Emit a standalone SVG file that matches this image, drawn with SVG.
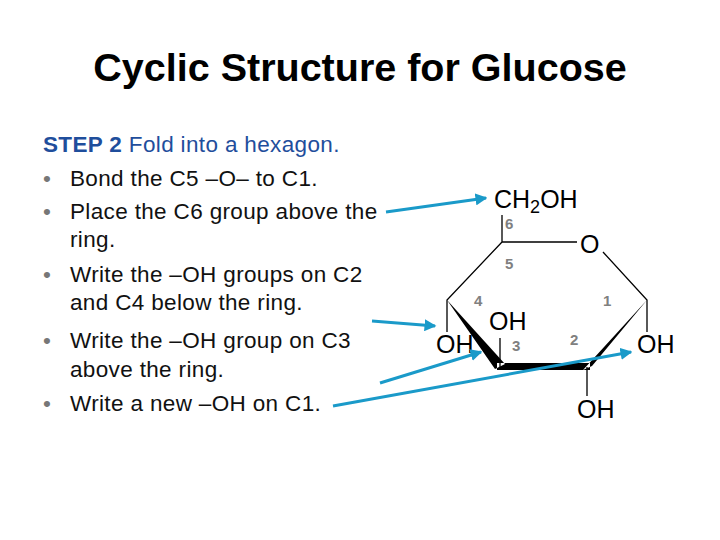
<svg xmlns="http://www.w3.org/2000/svg" width="720" height="540" viewBox="0 0 720 540">
<style>
text{font-family:"Liberation Sans",Arial,sans-serif}
.t{font-size:22.5px;letter-spacing:0.35px;fill:#111}
.b{font-size:22.5px;letter-spacing:0.35px;fill:#1f4e9c}
.g{fill:#777}
.a{font-size:25px;fill:#000}
.n{font-size:15px;fill:#808080;font-weight:bold}
.bond{stroke:#000;stroke-width:1.3;fill:none}
.arr{stroke:#1a9ac9;stroke-width:3;fill:none;marker-end:url(#m)}
</style>
<defs><marker id="m" markerWidth="4" markerHeight="4" refX="3.5" refY="2" orient="auto" markerUnits="strokeWidth"><path d="M0,0 L4,2 L0,4 z" fill="#1a9ac9"/></marker></defs>
<rect width="720" height="540" fill="#fff"/>
<text x="360" y="81" text-anchor="middle" font-size="39.5" font-weight="bold">Cyclic Structure for Glucose</text>
<g id="text">
<text x="43" y="152" class="b"><tspan font-weight="bold">STEP 2</tspan> Fold into a hexagon.</text>
<text x="43" y="186" class="t g">•</text><text x="70" y="186" class="t">Bond the C5 –O–  to C1.</text>
<text x="43" y="219" class="t g">•</text><text x="70" y="219" class="t">Place the C6 group above the</text>
<text x="70" y="247" class="t">ring.</text>
<text x="43" y="282" class="t g">•</text><text x="70" y="282" class="t">Write the –OH groups on C2</text>
<text x="70" y="310" class="t">and C4 below the ring.</text>
<text x="43" y="348" class="t g">•</text><text x="70" y="348" class="t">Write the –OH group on  C3</text>
<text x="70" y="377" class="t">above the ring.</text>
<text x="43" y="411" class="t g">•</text><text x="70" y="411" class="t">Write a new –OH on C1.</text>
</g>
<g id="ring">
<path class="bond" d="M502,242 L502,215 M502,242 L577,242 M603,252 L647,300 L647,332 M502,242 L447,300 L447,332 M500,367 L500,338 M587,367 L587,396"/>
<path d="M447,300 L495,369 L505,364 Z M497,363 L590,363 L590,370 L497,370 Z M583,370 L592,366 L647,300 Z" fill="#000"/>
<text x="494" y="208" class="a">CH<tspan font-size="18" dy="5">2</tspan><tspan dy="-5">OH</tspan></text>
<text x="580" y="253" class="a">O</text>
<text x="436" y="353" class="a">OH</text>
<text x="489" y="330" class="a">OH</text>
<text x="637" y="353" class="a">OH</text>
<text x="577" y="418" class="a">OH</text>
<text x="505" y="229" class="n">6</text>
<text x="505" y="269" class="n">5</text>
<text x="474" y="306" class="n">4</text>
<text x="512" y="351" class="n">3</text>
<text x="570" y="345" class="n">2</text>
<text x="603" y="306" class="n">1</text>
</g>
<g id="connectors">
<path class="arr" d="M386,212 L486,198"/>
<path class="arr" d="M372,321 L435,326"/>
<path class="arr" d="M380,383 L481,352"/>
<path class="arr" d="M333,406 L631,352"/>
</g>
</svg>
